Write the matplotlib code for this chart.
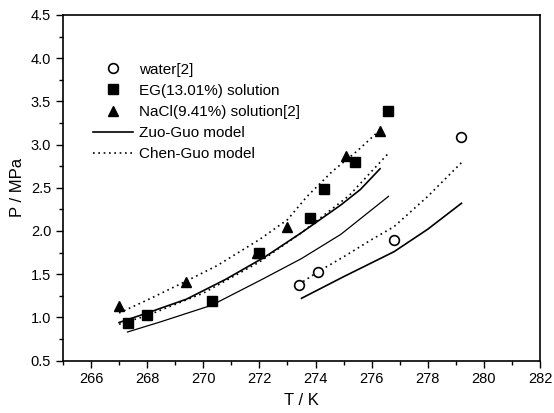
import matplotlib
matplotlib.use("Agg")
import matplotlib.pyplot as plt
from matplotlib.ticker import MultipleLocator, FormatStrFormatter
from matplotlib.lines import Line2D

plt.rcParams['font.family'] = ['Liberation Sans', 'DejaVu Sans']

# Experimental data
water_T = [273.4, 274.1, 276.8, 279.2]
water_P = [1.37, 1.53, 1.89, 3.09]

eg_T = [267.3, 268.0, 270.3, 272.0, 273.8, 274.3, 275.4, 276.6]
eg_P = [0.93, 1.03, 1.19, 1.75, 2.15, 2.49, 2.80, 3.39]

nacl_T = [267.0, 269.4, 271.9, 273.0, 275.1, 276.3]
nacl_P = [1.13, 1.41, 1.74, 2.04, 2.87, 3.16]

# Zuo-Guo model curves
zg_eg_T = [267.0, 268.0, 269.4, 270.8, 272.2, 273.5, 274.9, 275.6, 276.3]
zg_eg_P = [0.94, 1.05, 1.21, 1.44, 1.70, 1.98, 2.30, 2.48, 2.72]

zg_nacl_T = [267.3, 268.5, 270.3, 272.1, 273.5, 274.9, 276.6]
zg_nacl_P = [0.83, 0.95, 1.14, 1.44, 1.68, 1.96, 2.40]

zg_water_T = [273.5, 275.0, 276.8, 278.0, 279.2]
zg_water_P = [1.22, 1.47, 1.76, 2.02, 2.32]

# Chen-Guo model curves
cg_nacl_T = [267.0, 268.0, 269.4, 270.5, 272.0, 273.0, 273.7, 274.6, 275.5, 276.3]
cg_nacl_P = [1.05, 1.20, 1.42, 1.60, 1.90, 2.13, 2.40, 2.69, 2.93, 3.17]

cg_eg_T = [267.0, 268.0, 270.0, 272.0, 273.5, 275.2, 276.6]
cg_eg_P = [0.92, 1.02, 1.28, 1.64, 1.98, 2.41, 2.90]

cg_water_T = [273.4, 274.1, 275.0, 276.0, 276.8, 278.0, 279.2]
cg_water_P = [1.38, 1.53, 1.70, 1.90, 2.05, 2.40, 2.79]

legend_labels = ['water[2]', 'EG(13.01%) solution', 'NaCl(9.41%) solution[2]',
                 'Zuo-Guo model', 'Chen-Guo model']
x_ticks = [266, 268, 270, 272, 274, 276, 278, 280, 282]

fig = plt.figure(figsize=(5.54, 4.13), dpi=100)
ax = fig.add_axes([0.1137, 0.1271, 0.8610, 0.8366])

dot = (0, (1, 2.2))
ax.plot(zg_eg_T, zg_eg_P, color='black', lw=1.2)
ax.plot(zg_nacl_T, zg_nacl_P, color='black', lw=0.9)
ax.plot(zg_water_T, zg_water_P, color='black', lw=1.2)
ax.plot(cg_nacl_T, cg_nacl_P, color='black', lw=1.2, ls=dot)
ax.plot(cg_eg_T, cg_eg_P, color='black', lw=1.2, ls=dot)
ax.plot(cg_water_T, cg_water_P, color='black', lw=1.2, ls=dot)

h_w, = ax.plot(water_T, water_P, 'o', ms=7, mfc='white', mec='black', mew=1.2, ls='none')
h_eg, = ax.plot(eg_T, eg_P, 's', ms=7, color='black', ls='none')
h_na, = ax.plot(nacl_T, nacl_P, '^', ms=7, color='black', ls='none')

h_zg = Line2D([], [], color='black', lw=1.2)
h_cg = Line2D([], [], color='black', lw=1.2, ls=dot)

ax.legend([h_w, h_eg, h_na, h_zg, h_cg], legend_labels,
          loc='upper left', bbox_to_anchor=(0.05, 0.88), frameon=False,
          fontsize=11, handlelength=2.6, handletextpad=0.4, labelspacing=0.47,
          borderaxespad=0)

ax.set_xlim(265, 282)
ax.set_ylim(0.5, 4.5)
ax.set_xticks(x_ticks)
ax.xaxis.set_minor_locator(MultipleLocator(1))
ax.yaxis.set_major_locator(MultipleLocator(0.5))
ax.yaxis.set_minor_locator(MultipleLocator(0.25))
ax.yaxis.set_major_formatter(FormatStrFormatter('%.1f'))
ax.tick_params(which='both', direction='out', top=False, right=False, labelsize=10.5, width=1.0)
ax.tick_params(which='major', length=5)
ax.tick_params(which='minor', length=3)
for s in ax.spines.values():
    s.set_linewidth(1.2)

ax.set_xlabel('T / K', fontsize=12, labelpad=5)
ax.set_ylabel('P / MPa', fontsize=12, labelpad=4)

fig.savefig('out.png', dpi=100)
